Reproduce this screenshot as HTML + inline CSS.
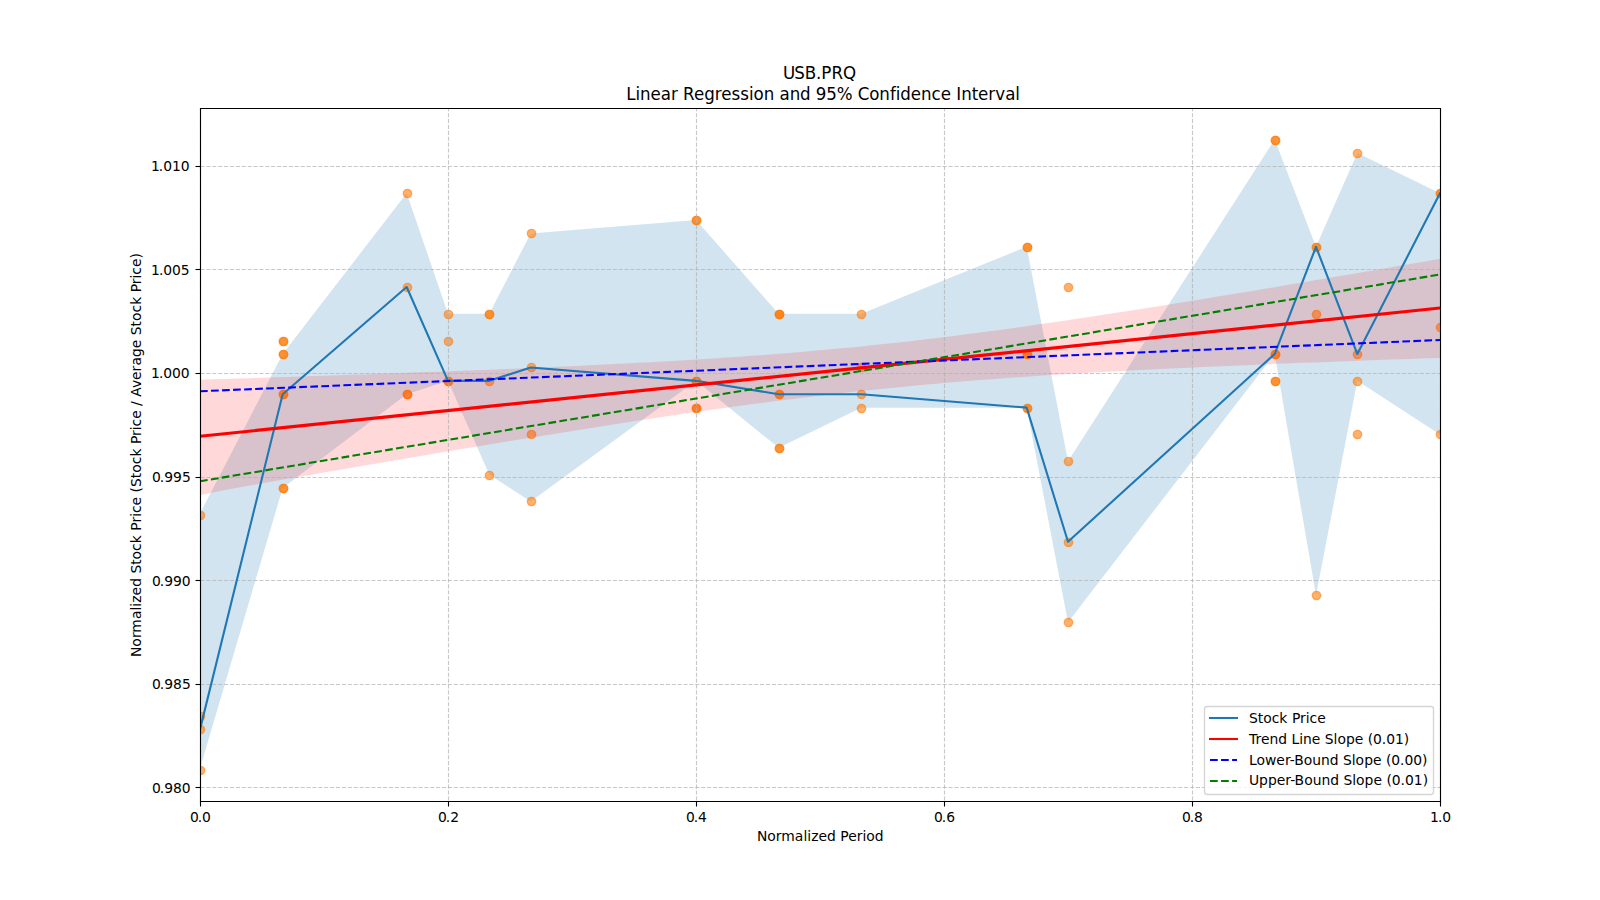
<!DOCTYPE html>
<html lang="en"><head><meta charset="utf-8"><title>USB.PRQ Linear Regression and 95% Confidence Interval</title>
<style>html,body{margin:0;padding:0;background:#fff;}body{width:1600px;height:900px;overflow:hidden;}svg{display:block;}text{font-family:"DejaVu Sans","Liberation Sans",sans-serif;fill:#000;font-variant-ligatures:none;font-feature-settings:"liga" 0,"clig" 0;font-kerning:none;}</style></head><body>
<svg width="1600" height="900" viewBox="0 0 1600 900">
<rect width="1600" height="900" fill="#fff"/>
<defs><clipPath id="ax"><rect x="200" y="108" width="1240" height="693"/></clipPath></defs>
<g clip-path="url(#ax)">
<polygon fill="#1f77b4" fill-opacity="0.2" points="200.00,513.50 282.67,354.03 406.67,193.17 448.00,313.81 489.33,313.81 530.67,233.38 696.00,219.98 778.67,313.81 861.33,313.81 1026.67,246.79 1068.00,461.27 1274.67,139.55 1316.00,246.79 1357.33,152.96 1440.00,193.17 1440.00,434.46 1357.33,380.84 1316.00,595.32 1274.67,354.03 1068.00,622.13 1026.67,407.65 861.33,407.65 778.67,447.87 696.00,380.84 530.67,501.49 489.33,474.68 448.00,380.84 406.67,394.25 282.67,488.08 200.00,768.50"/>
<g fill="#ff7f0e" fill-opacity="0.6" stroke="#ff7f0e" stroke-opacity="0.6" stroke-width="1.39">
<circle cx="200.5" cy="515.5" r="4.17"/>
<circle cx="200.5" cy="716.5" r="4.17"/>
<circle cx="200.5" cy="729.5" r="4.17"/>
<circle cx="200.5" cy="770.5" r="4.17"/>
<circle cx="283.5" cy="341.5" r="4.17"/>
<circle cx="283.5" cy="341.5" r="4.17"/>
<circle cx="283.5" cy="354.5" r="4.17"/>
<circle cx="283.5" cy="354.5" r="4.17"/>
<circle cx="283.5" cy="394.5" r="4.17"/>
<circle cx="283.5" cy="394.5" r="4.17"/>
<circle cx="283.5" cy="488.5" r="4.17"/>
<circle cx="283.5" cy="488.5" r="4.17"/>
<circle cx="407.5" cy="193.5" r="4.17"/>
<circle cx="407.5" cy="287.5" r="4.17"/>
<circle cx="407.5" cy="394.5" r="4.17"/>
<circle cx="407.5" cy="394.5" r="4.17"/>
<circle cx="448.5" cy="314.5" r="4.17"/>
<circle cx="448.5" cy="341.5" r="4.17"/>
<circle cx="448.5" cy="381.5" r="4.17"/>
<circle cx="448.5" cy="381.5" r="4.17"/>
<circle cx="489.5" cy="314.5" r="4.17"/>
<circle cx="489.5" cy="314.5" r="4.17"/>
<circle cx="489.5" cy="381.5" r="4.17"/>
<circle cx="489.5" cy="475.5" r="4.17"/>
<circle cx="531.5" cy="233.5" r="4.17"/>
<circle cx="531.5" cy="367.5" r="4.17"/>
<circle cx="531.5" cy="434.5" r="4.17"/>
<circle cx="531.5" cy="501.5" r="4.17"/>
<circle cx="696.5" cy="220.5" r="4.17"/>
<circle cx="696.5" cy="220.5" r="4.17"/>
<circle cx="696.5" cy="381.5" r="4.17"/>
<circle cx="696.5" cy="381.5" r="4.17"/>
<circle cx="696.5" cy="408.5" r="4.17"/>
<circle cx="696.5" cy="408.5" r="4.17"/>
<circle cx="779.5" cy="314.5" r="4.17"/>
<circle cx="779.5" cy="314.5" r="4.17"/>
<circle cx="779.5" cy="314.5" r="4.17"/>
<circle cx="779.5" cy="394.5" r="4.17"/>
<circle cx="779.5" cy="394.5" r="4.17"/>
<circle cx="779.5" cy="448.5" r="4.17"/>
<circle cx="779.5" cy="448.5" r="4.17"/>
<circle cx="861.5" cy="314.5" r="4.17"/>
<circle cx="861.5" cy="367.5" r="4.17"/>
<circle cx="861.5" cy="394.5" r="4.17"/>
<circle cx="861.5" cy="408.5" r="4.17"/>
<circle cx="1027.5" cy="247.5" r="4.17"/>
<circle cx="1027.5" cy="247.5" r="4.17"/>
<circle cx="1027.5" cy="354.5" r="4.17"/>
<circle cx="1027.5" cy="354.5" r="4.17"/>
<circle cx="1027.5" cy="408.5" r="4.17"/>
<circle cx="1027.5" cy="408.5" r="4.17"/>
<circle cx="1068.5" cy="287.5" r="4.17"/>
<circle cx="1068.5" cy="461.5" r="4.17"/>
<circle cx="1068.5" cy="542.5" r="4.17"/>
<circle cx="1068.5" cy="622.5" r="4.17"/>
<circle cx="1275.5" cy="140.5" r="4.17"/>
<circle cx="1275.5" cy="140.5" r="4.17"/>
<circle cx="1275.5" cy="354.5" r="4.17"/>
<circle cx="1275.5" cy="354.5" r="4.17"/>
<circle cx="1275.5" cy="381.5" r="4.17"/>
<circle cx="1275.5" cy="381.5" r="4.17"/>
<circle cx="1316.5" cy="247.5" r="4.17"/>
<circle cx="1316.5" cy="247.5" r="4.17"/>
<circle cx="1316.5" cy="314.5" r="4.17"/>
<circle cx="1316.5" cy="595.5" r="4.17"/>
<circle cx="1357.5" cy="153.5" r="4.17"/>
<circle cx="1357.5" cy="354.5" r="4.17"/>
<circle cx="1357.5" cy="381.5" r="4.17"/>
<circle cx="1357.5" cy="434.5" r="4.17"/>
<circle cx="1440.5" cy="193.5" r="4.17"/>
<circle cx="1440.5" cy="193.5" r="4.17"/>
<circle cx="1440.5" cy="327.5" r="4.17"/>
<circle cx="1440.5" cy="434.5" r="4.17"/>
</g>
<polygon fill="#ff0000" fill-opacity="0.15" points="200.00,379.76 212.53,379.37 225.05,378.97 237.58,378.57 250.10,378.17 262.63,377.76 275.15,377.35 287.68,376.94 300.20,376.52 312.73,376.10 325.25,375.68 337.78,375.25 350.30,374.82 362.83,374.38 375.35,373.94 387.88,373.50 400.40,373.04 412.93,372.59 425.45,372.12 437.98,371.65 450.51,371.18 463.03,370.69 475.56,370.20 488.08,369.70 500.61,369.19 513.13,368.67 525.66,368.15 538.18,367.61 550.71,367.06 563.23,366.50 575.76,365.92 588.28,365.33 600.81,364.72 613.33,364.10 625.86,363.47 638.38,362.81 650.91,362.13 663.43,361.44 675.96,360.72 688.48,359.97 701.01,359.20 713.54,358.41 726.06,357.58 738.59,356.73 751.11,355.84 763.64,354.91 776.16,353.96 788.69,352.96 801.21,351.93 813.74,350.85 826.26,349.74 838.79,348.58 851.31,347.38 863.84,346.13 876.36,344.84 888.89,343.51 901.41,342.13 913.94,340.71 926.46,339.24 938.99,337.74 951.52,336.19 964.04,334.60 976.57,332.98 989.09,331.32 1001.62,329.63 1014.14,327.90 1026.67,326.14 1039.19,324.35 1051.72,322.54 1064.24,320.70 1076.77,318.83 1089.29,316.94 1101.82,315.03 1114.34,313.10 1126.87,311.16 1139.39,309.19 1151.92,307.21 1164.44,305.21 1176.97,303.20 1189.49,301.17 1202.02,299.14 1214.55,297.09 1227.07,295.03 1239.60,292.96 1252.12,290.88 1264.65,288.79 1277.17,286.69 1289.70,284.58 1302.22,282.47 1314.75,280.35 1327.27,278.23 1339.80,276.09 1352.32,273.96 1364.85,271.81 1377.37,269.66 1389.90,267.51 1402.42,265.35 1414.95,263.19 1427.47,261.02 1440.00,258.85 1440.00,357.89 1427.47,358.31 1414.95,358.75 1402.42,359.18 1389.90,359.62 1377.37,360.07 1364.85,360.52 1352.32,360.98 1339.80,361.44 1327.27,361.91 1314.75,362.39 1302.22,362.87 1289.70,363.36 1277.17,363.86 1264.65,364.37 1252.12,364.89 1239.60,365.42 1227.07,365.95 1214.55,366.50 1202.02,367.06 1189.49,367.64 1176.97,368.22 1164.44,368.83 1151.92,369.44 1139.39,370.07 1126.87,370.72 1114.34,371.39 1101.82,372.08 1089.29,372.79 1076.77,373.52 1064.24,374.28 1051.72,375.06 1039.19,375.86 1026.67,376.70 1014.14,377.56 1001.62,378.45 989.09,379.38 976.57,380.34 964.04,381.34 951.52,382.37 938.99,383.44 926.46,384.55 913.94,385.70 901.41,386.89 888.89,388.13 876.36,389.40 863.84,390.72 851.31,392.07 838.79,393.47 826.26,394.91 813.74,396.39 801.21,397.91 788.69,399.47 776.16,401.06 763.64,402.69 751.11,404.35 738.59,406.04 726.06,407.77 713.54,409.53 701.01,411.31 688.48,413.12 675.96,414.96 663.43,416.82 650.91,418.70 638.38,420.60 625.86,422.52 613.33,424.46 600.81,426.42 588.28,428.39 575.76,430.38 563.23,432.39 550.71,434.40 538.18,436.43 525.66,438.47 513.13,440.53 500.61,442.59 488.08,444.66 475.56,446.75 463.03,448.84 450.51,450.94 437.98,453.04 425.45,455.16 412.93,457.28 400.40,459.40 387.88,461.54 375.35,463.68 362.83,465.82 350.30,467.97 337.78,470.13 325.25,472.29 312.73,474.46 300.20,476.64 287.68,478.82 275.15,481.02 262.63,483.23 250.10,485.47 237.58,487.76 225.05,490.10 212.53,492.56 200.00,495.19"/>
</g>
<g stroke="#b0b0b0" stroke-opacity="0.7" stroke-width="1.11" stroke-dasharray="4.11 1.78" fill="none">
<path d="M200.5 800.5V108"/>
<path d="M448.5 800.5V108"/>
<path d="M696.5 800.5V108"/>
<path d="M944.5 800.5V108"/>
<path d="M1192.5 800.5V108"/>
<path d="M1440.5 800.5V108"/>
<path d="M200.5 166.5H1440"/>
<path d="M200.5 269.5H1440"/>
<path d="M200.5 373.5H1440"/>
<path d="M200.5 477.5H1440"/>
<path d="M200.5 580.5H1440"/>
<path d="M200.5 684.5H1440"/>
<path d="M200.5 787.5H1440"/>
</g>
<g clip-path="url(#ax)" fill="none" stroke-linejoin="round">
<polyline stroke="#1f77b4" stroke-width="2.08" stroke-linecap="square" points="200.00,729.37 282.67,394.25 406.67,287.00 448.00,380.84 489.33,380.84 530.67,367.44 696.00,380.84 778.67,394.25 861.33,394.25 1026.67,407.65 1068.00,541.70 1274.67,354.03 1316.00,246.79 1357.33,354.03 1440.00,193.17"/>
<polyline stroke="#ff0000" stroke-width="3.125" stroke-linecap="square" points="200.00,436.25 1440.00,308.00"/>
<polyline stroke="#0000ff" stroke-width="2.08" stroke-dasharray="7.71 3.33" points="200.00,391.25 1440.00,340.00"/>
<polyline stroke="#008000" stroke-width="2.08" stroke-dasharray="7.71 3.33" points="200.00,481.25 1440.00,274.50"/>
</g>
<g stroke="#000" stroke-width="1.11" fill="none">
<path d="M200.5 801V806.5"/>
<path d="M448.5 801V806.5"/>
<path d="M696.5 801V806.5"/>
<path d="M944.5 801V806.5"/>
<path d="M1192.5 801V806.5"/>
<path d="M1440.5 801V806.5"/>
<path d="M200 166.5H195.5"/>
<path d="M200 269.5H195.5"/>
<path d="M200 373.5H195.5"/>
<path d="M200 477.5H195.5"/>
<path d="M200 580.5H195.5"/>
<path d="M200 684.5H195.5"/>
<path d="M200 787.5H195.5"/>
<path d="M199.945 108.5H1441.055M199.945 801.5H1441.055M200.5 108V802M1440.5 108V802"/>
</g>
<g font-size="13.89px" style="white-space:pre">
<!--xt0.0-->
<text xml:space="preserve" x="189.95 197.70 202.08" y="821.92">0.0</text>
<!--xt0.2-->
<text xml:space="preserve" x="438.02 445.77 450.15" y="821.90">0.2</text>
<!--xt0.4-->
<text xml:space="preserve" x="686.02 693.77 698.06" y="822.12">0.4</text>
<!--xt0.6-->
<text xml:space="preserve" x="933.92 941.67 946.13" y="821.96">0.6</text>
<!--xt0.8-->
<text xml:space="preserve" x="1181.88 1189.63 1194.09" y="822.05">0.8</text>
<!--xt1.0-->
<text xml:space="preserve" x="1430.10 1437.97 1442.35" y="821.95">1.0</text>
<!--yt1.010-->
<text xml:space="preserve" x="150.94 158.81 163.19 171.94 180.81" y="170.90">1.010</text>
<!--yt1.005-->
<text xml:space="preserve" x="151.05 158.93 163.30 172.05 180.80" y="275.02">1.005</text>
<!--yt1.000-->
<text xml:space="preserve" x="151.12 159.00 163.37 172.12 180.87" y="378.01">1.000</text>
<!--yt0.995-->
<text xml:space="preserve" x="152.00 159.75 164.13 173.00 181.88" y="481.90">0.995</text>
<!--yt0.990-->
<text xml:space="preserve" x="151.97 159.72 164.18 172.97 181.84" y="585.99">0.990</text>
<!--yt0.985-->
<text xml:space="preserve" x="152.06 159.81 164.19 173.06 181.94" y="688.99">0.985</text>
<!--yt0.980-->
<text xml:space="preserve" x="151.91 159.66 164.13 172.91 181.79" y="793.04">0.980</text>
<!--xlabel-->
<text xml:space="preserve" x="756.90 767.28 775.87 781.28 794.78 803.40 807.28 811.15 818.62 827.12 835.90 840.28 848.15 856.65 862.40 866.28 874.87" y="840.94">Normalized Period</text>
<!--ylabel-->
<text xml:space="preserve" transform="translate(141.10 454.50) rotate(-90)" x="-202.47 -192.18 -183.59 -178.18 -164.59 -155.97 -152.18 -148.22 -140.93 -132.34 -123.47 -119.09 -110.34 -104.93 -96.43 -88.72 -80.59 -76.22 -68.09 -62.34 -58.47 -50.93 -42.34 -37.97 -32.47 -23.72 -18.22 -9.72 -2.09 6.03 10.41 18.53 24.28 28.07 35.78 44.28 48.57 53.28 57.66 66.41 74.57 83.07 88.91 97.53 106.32 114.91 119.28 128.03 133.53 142.03 149.66 157.78 162.16 170.28 176.03 179.82 187.53 196.03" y="0">Normalized Stock Price (Stock Price / Average Stock Price)</text>
</g>
<g font-size="16.67px" style="white-space:pre">
<!--title1-->
<text xml:space="preserve" transform="translate(0 79.00) scale(1 1.070)" x="782.89 794.14 804.64 816.01 821.26 831.39 843.01" y="0">USB.PRQ</text>
<!--title2-->
<text xml:space="preserve" transform="translate(0 100.00) scale(1 1.070)" x="621.06 626.31 635.56 640.10 650.60 660.85 671.06 677.94 683.10 694.06 704.31 714.81 721.31 731.56 740.31 749.06 753.60 763.81 774.31 779.56 789.69 800.10 810.69 815.85 826.35 836.85 852.56 857.72 869.22 879.35 889.94 895.81 900.35 910.85 921.10 931.60 940.81 951.06 956.31 961.19 971.69 978.10 988.35 995.31 1005.19 1015.31" y="0"> Linear Regression and 95% Confidence Interval</text>
</g>
<rect x="1204.5" y="706.5" width="229" height="88" rx="2.78" ry="2.78" fill="#fff" fill-opacity="0.8" stroke="#ccc" stroke-opacity="0.8" stroke-width="1.39"/>
<g fill="none">
<path d="M1208.96 718H1238.04" stroke="#1f77b4" stroke-width="2.08"/>
<path d="M1208.96 739H1238.04" stroke="#ff0000" stroke-width="2.08"/>
<path d="M1210 760H1237" stroke="#0000ff" stroke-width="2.08" stroke-dasharray="7.71 3.33"/>
<path d="M1210 781H1237" stroke="#008000" stroke-width="2.08" stroke-dasharray="7.71 3.33"/>
</g>
<g font-size="13.89px" style="white-space:pre">
<!--leg1-->
<text xml:space="preserve" x="1248.98 1257.73 1263.23 1271.73 1279.36 1287.48 1291.94 1299.98 1305.73 1309.61 1317.23" y="723.02">Stock Price</text>
<!--leg2-->
<text xml:space="preserve" x="1249.02 1255.52 1261.02 1269.52 1278.27 1287.14 1291.52 1299.27 1303.06 1311.81 1320.39 1324.77 1333.52 1337.39 1345.89 1354.77 1363.27 1367.64 1373.06 1381.81 1386.27 1395.02 1403.81" y="744.00">Trend Line Slope (0.01)</text>
<!--leg3-->
<text xml:space="preserve" x="1248.94 1256.44 1264.94 1276.32 1284.90 1289.78 1294.15 1303.69 1312.19 1320.94 1329.69 1338.57 1342.94 1351.69 1355.57 1364.15 1372.94 1381.44 1385.90 1391.32 1400.07 1404.44 1413.19 1421.94" y="765.09">Lower-Bound Slope (0.00)</text>
<!--leg4-->
<text xml:space="preserve" x="1249.00 1259.12 1268.00 1276.79 1285.29 1290.25 1294.62 1304.25 1312.75 1321.50 1330.25 1339.12 1343.50 1352.25 1356.12 1364.62 1373.50 1382.00 1386.38 1391.79 1400.62 1405.00 1413.75 1422.71" y="784.96">Upper-Bound Slope (0.01)</text>
</g>
</svg></body></html>
